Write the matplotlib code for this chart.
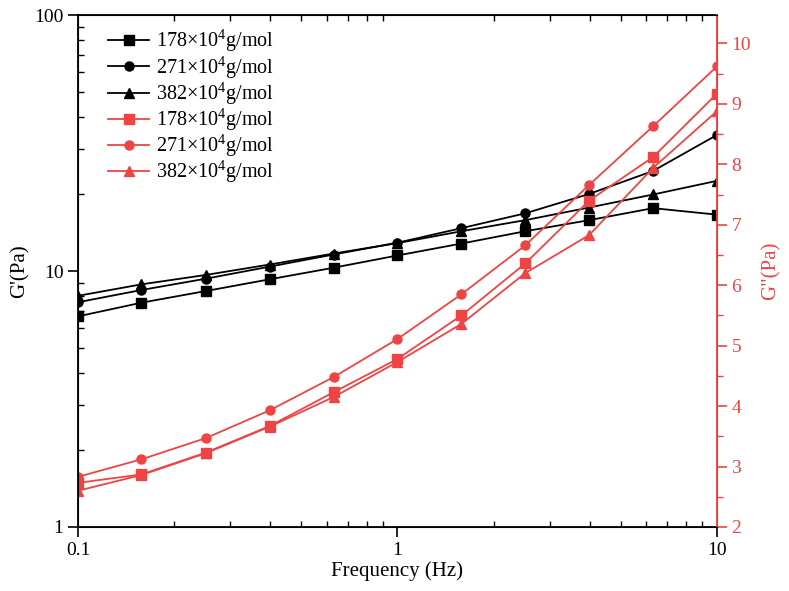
import matplotlib.pyplot as plt
from matplotlib.ticker import MultipleLocator, NullFormatter, FixedFormatter

plt.rcParams['font.family'] = ['Liberation Serif', 'DejaVu Serif']
plt.rcParams['mathtext.fontset'] = 'custom'
plt.rcParams['mathtext.rm'] = 'Liberation Serif'
plt.rcParams['mathtext.it'] = 'Liberation Serif:italic'

red = '#EE4444'

# Frequency (Hz)
freq = [0.1, 0.158, 0.251, 0.398, 0.631, 1.0, 1.585, 2.512, 3.981, 6.31, 10.0]

# G' (Pa), left log axis
gp_178 = [6.65, 7.52, 8.35, 9.28, 10.3, 11.5, 12.8, 14.3, 15.8, 17.6, 16.6]
gp_271 = [7.55, 8.43, 9.33, 10.4, 11.6, 12.9, 14.7, 16.8, 20.0, 24.6, 34.0]
gp_382 = [8.0, 8.87, 9.65, 10.6, 11.7, 12.85, 14.3, 15.8, 17.7, 19.9, 22.5]

# G'' (Pa), right linear axis
gpp_178 = [2.73, 2.87, 3.23, 3.67, 4.23, 4.78, 5.50, 6.36, 7.40, 8.12, 9.17]
gpp_271 = [2.83, 3.12, 3.47, 3.93, 4.48, 5.11, 5.85, 6.66, 7.66, 8.63, 9.62]
gpp_382 = [2.60, 2.86, 3.22, 3.66, 4.15, 4.73, 5.36, 6.20, 6.83, 7.94, 8.88]

labels = [r'178$\times$10$^4$g/mol', r'271$\times$10$^4$g/mol', r'382$\times$10$^4$g/mol']
markers = ['s', 'o', '^']

fig = plt.figure(figsize=(7.89, 5.91), dpi=100)
ax = fig.add_axes([0.0989, 0.1083, 0.8098, 0.8663])
ax2 = ax.twinx()

handles = []
for y, m, lab in zip([gp_178, gp_271, gp_382], markers, labels):
    h, = ax.plot(freq, y, color='black', marker=m, markersize=6.5, linewidth=1.3, label=lab)
    handles.append(h)
for y, m, lab in zip([gpp_178, gpp_271, gpp_382], markers, labels):
    h, = ax2.plot(freq, y, color=red, marker=m, markersize=6.5, linewidth=1.3, label=lab)
    handles.append(h)

ax.set_xscale('log')
ax.set_yscale('log')
ax.set_xlim(0.1, 10)
ax.set_ylim(1, 100)
ax2.set_ylim(2, 10.47)

ax.set_xticks([0.1, 1, 10])
ax.xaxis.set_major_formatter(FixedFormatter(['0.1', '1', '10']))
ax.xaxis.set_minor_formatter(NullFormatter())
ax.set_yticks([1, 10, 100])
ax.yaxis.set_major_formatter(FixedFormatter(['1', '10', '100']))
ax.yaxis.set_minor_formatter(NullFormatter())

ax.tick_params(which='major', direction='out', length=7, width=1.2, labelsize=14)
ax.tick_params(which='minor', direction='in', length=4, width=1.0)
ax.tick_params(top=True, which='both')
ax.tick_params(axis='x', which='major', top=False)

ax2.yaxis.set_major_locator(MultipleLocator(1))
ax2.yaxis.set_minor_locator(MultipleLocator(0.5))
ax2.tick_params(which='major', direction='out', length=7, width=1.2, colors=red, labelsize=14)
ax2.tick_params(which='minor', direction='out', length=4, width=1.0, colors=red)
ax2.spines['right'].set_color(red)
for s in ['left', 'bottom', 'top']:
    ax.spines[s].set_linewidth(1.3)
ax2.spines['right'].set_linewidth(1.3)

ax.set_xlabel('Frequency (Hz)', fontsize=15, labelpad=2)
ax.set_ylabel("G'(Pa)", fontsize=15, labelpad=3)
ax2.set_ylabel('G"(Pa)', fontsize=15, color=red, labelpad=7)

ax2.legend(handles=handles, loc='upper left', bbox_to_anchor=(0.035, 0.99), frameon=False,
           fontsize=14.5, handlelength=2.0, labelspacing=0.0, handletextpad=0.35,
           borderaxespad=0.2, borderpad=0.2)

fig.savefig('out.png', dpi=100)
